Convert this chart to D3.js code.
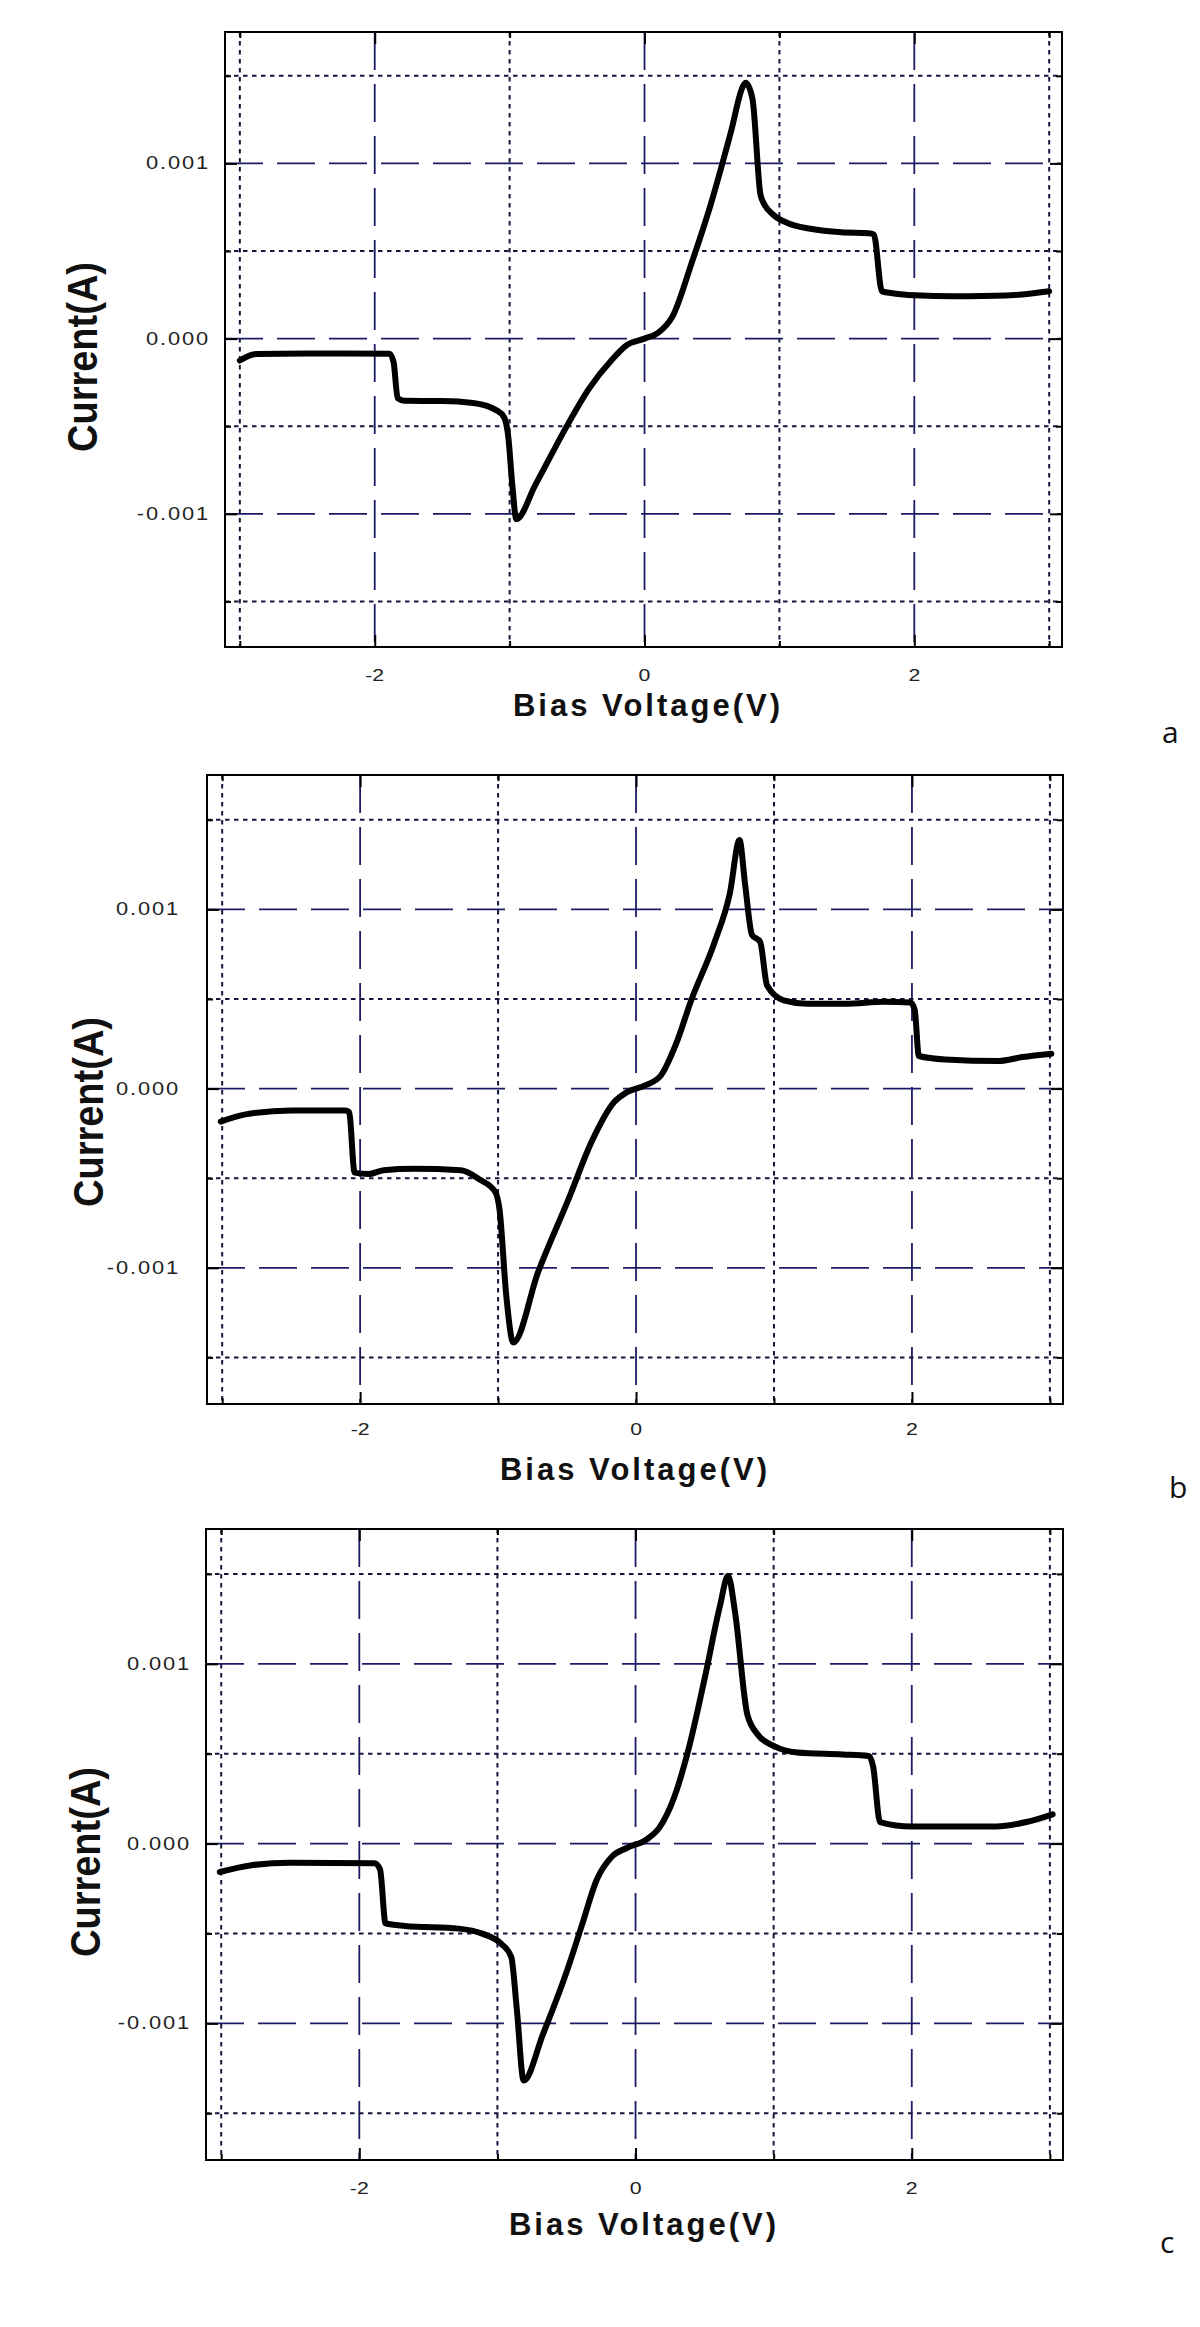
<!DOCTYPE html>
<html>
<head>
<meta charset="utf-8">
<script src="https://cdn.jsdelivr.net/npm/d3@7"></script>
<style>
  body { margin: 0; background: #fff; }
  svg { display: block; }
</style>
</head>
<body>
<div class="plot"></div>
<script>
// grid / tick values
const xMajor = [-2, 0, 2];
const xMinor = [-3, -1, 1, 3];
const yMajor = [0.001, 0, -0.001];
const yMinor = [0.0015, 0.0005, -0.0005, -0.0015];
const xTickLabels = ["-2", "0", "2"];
const yTickLabels = ["0.001", "0.000", "-0.001"];
const panelNames = ["a", "b", "c"];
const xDomain = [-3.11, 3.095];
const yDomain = [-0.00176, 0.00175];

// panel a : I-V curve
const voltsA = [-3.0, -2.88, -2.5, -1.89, -1.86, -1.83, -1.78, -1.5, -1.27, -1.10, -1.04, -1.01, -0.98, -0.95,
  -0.81, -0.58, -0.41, -0.24, -0.13, 0.0, 0.10, 0.21, 0.35, 0.49, 0.64, 0.73, 0.75, 0.80, 0.86, 0.89, 0.95,
  1.06, 1.23, 1.46, 1.66, 1.70, 1.76, 1.85, 2.0, 2.3, 2.6, 2.8, 3.0];
const currentA = [-0.000125, -0.000088, -0.000085, -0.000086, -0.000135, -0.00034, -0.000355, -0.000356, -0.000367,
  -0.000408, -0.00045, -0.00056, -0.000836, -0.00103,
  -0.000836, -0.000505, -0.000284, -0.000119, -0.000036, 0.0, 0.000033, 0.00013, 0.000433, 0.000764, 0.001178,
  0.00144, 0.00146, 0.00137, 0.00082, 0.000764, 0.00071,
  0.00066, 0.000627, 0.000607, 0.000602, 0.000595, 0.00027, 0.000258, 0.000248, 0.000242, 0.000244, 0.000252, 0.00027];

// panel b
const voltsB = [-3.01, -2.83, -2.5, -2.11, -2.08, -2.04, -1.94, -1.83, -1.61, -1.27, -1.13, -1.02, -0.99, -0.94,
  -0.89, -0.71, -0.49, -0.32, -0.16, -0.07, 0.07, 0.18, 0.29, 0.40, 0.57, 0.68, 0.75, 0.79, 0.84, 0.90, 0.95,
  1.07, 1.24, 1.52, 1.80, 1.99, 2.02, 2.05, 2.24, 2.63, 2.80, 3.01];
const currentB = [-0.000184, -0.000144, -0.000122, -0.000122, -0.00013, -0.000469, -0.000477, -0.000455, -0.000447,
  -0.000455, -0.000509, -0.000577, -0.000672, -0.00116,
  -0.001417, -0.001024, -0.000618, -0.000293, -0.000076, -0.000022, 0.000019, 0.000073, 0.000249, 0.000493,
  0.000818, 0.00109, 0.001387, 0.001144, 0.000859, 0.000818, 0.000575,
  0.000493, 0.000474, 0.000474, 0.000485, 0.00048, 0.000439, 0.000182, 0.000163, 0.000154, 0.000176, 0.000195];

// panel c
const voltsC = [-3.01, -2.78, -2.5, -1.89, -1.85, -1.81, -1.67, -1.28, -1.11, -0.97, -0.90, -0.86, -0.81,
  -0.67, -0.50, -0.39, -0.28, -0.17, -0.06, 0.08, 0.17, 0.28, 0.39, 0.50, 0.61, 0.67, 0.72, 0.81, 0.89,
  1.0, 1.17, 1.5, 1.69, 1.72, 1.77, 2.0, 2.61, 2.83, 3.02];
const currentC = [-0.000158, -0.00012, -0.000106, -0.000109, -0.000143, -0.000444, -0.000458, -0.000473, -0.000501,
  -0.000559, -0.00063, -0.000917, -0.001318,
  -0.00106, -0.000716, -0.000458, -0.0002, -0.000072, -0.000023, 0.000023, 0.000086, 0.000258, 0.000544,
  0.000917, 0.001318, 0.00149, 0.00129, 0.000716, 0.000602,
  0.000544, 0.000507, 0.000496, 0.000487, 0.00043, 0.00012, 0.000095, 0.000095, 0.00012, 0.000163];

const series = [[voltsA, currentA], [voltsB, currentB], [voltsC, currentC]];

// where each panel sits on the page
const layout = [
  {left: 225, right: 1062, top: 32, bottom: 647, yGap: 15, xLab: 34, titleX: 648, titleY: 716, yTitleX: 97, yTitleY: 357, tagX: 1162, tagY: 743},
  {left: 207, right: 1063, top: 775, bottom: 1404, yGap: 27, xLab: 31, titleX: 635, titleY: 1480, yTitleX: 103, yTitleY: 1112, tagX: 1169, tagY: 1498},
  {left: 206, right: 1063, top: 1529, bottom: 2160, yGap: 15, xLab: 34, titleX: 644, titleY: 2235, yTitleX: 100, yTitleY: 1862, tagX: 1160, tagY: 2253}
];

const svg = d3.select(".plot")
  .append("svg")
    .attr("width", 1200)
    .attr("height", 2327);

const dashCol = "#1c1c66", dotCol = "#16163c";

layout.forEach((p, i) => {
  const x = d3.scaleLinear().domain(xDomain).range([p.left, p.right]);
  const y = d3.scaleLinear().domain(yDomain).range([p.bottom, p.top]);
  const g = svg.append("g");

  // gridlines
  g.selectAll(".vmaj").data(xMajor).enter().append("line")
    .attr("x1", d => x(d)).attr("x2", d => x(d))
    .attr("y1", p.top).attr("y2", p.bottom)
    .attr("stroke", dashCol).attr("stroke-width", 1.8).attr("stroke-dasharray", "38,14");
  g.selectAll(".vmin").data(xMinor).enter().append("line")
    .attr("x1", d => x(d)).attr("x2", d => x(d))
    .attr("y1", p.top).attr("y2", p.bottom)
    .attr("stroke", dotCol).attr("stroke-width", 2).attr("stroke-dasharray", "4.5,4.5");
  g.selectAll(".hmaj").data(yMajor).enter().append("line")
    .attr("y1", d => y(d)).attr("y2", d => y(d))
    .attr("x1", p.left).attr("x2", p.right)
    .attr("stroke", dashCol).attr("stroke-width", 1.8).attr("stroke-dasharray", "38,14");
  g.selectAll(".hmin").data(yMinor).enter().append("line")
    .attr("y1", d => y(d)).attr("y2", d => y(d))
    .attr("x1", p.left).attr("x2", p.right)
    .attr("stroke", dotCol).attr("stroke-width", 2).attr("stroke-dasharray", "4.5,4.5");

  // inward ticks on all four sides
  const addAxis = (axis, tx, ty) => {
    const a = g.append("g").attr("transform", `translate(${tx},${ty})`).call(axis);
    a.select(".domain").remove();
    a.selectAll("line").attr("stroke", "#000").attr("stroke-width", 2);
  };
  [[xMajor, 12], [xMinor, 6]].forEach(([vals, len]) => {
    addAxis(d3.axisBottom(x).tickValues(vals).tickSize(-len).tickFormat(""), 0, p.bottom);
    addAxis(d3.axisTop(x).tickValues(vals).tickSize(-len).tickFormat(""), 0, p.top);
  });
  [[yMajor, 12], [yMinor, 6]].forEach(([vals, len]) => {
    addAxis(d3.axisLeft(y).tickValues(vals).tickSize(-len).tickFormat(""), p.left, 0);
    addAxis(d3.axisRight(y).tickValues(vals).tickSize(-len).tickFormat(""), p.right, 0);
  });

  // frame
  g.append("rect")
    .attr("x", p.left).attr("y", p.top)
    .attr("width", p.right - p.left).attr("height", p.bottom - p.top)
    .attr("fill", "none").attr("stroke", "#000").attr("stroke-width", 2);

  // curve
  const [vs, cs] = series[i];
  const pts = vs.map((v, k) => [v, cs[k]]);
  const line = d3.line()
    .x(d => x(d[0]))
    .y(d => y(d[1]))
    .curve(d3.curveMonotoneX);
  g.append("path")
    .datum(pts)
    .attr("d", line)
    .attr("fill", "none")
    .attr("stroke", "#000")
    .attr("stroke-width", 6)
    .attr("stroke-linejoin", "round")
    .attr("stroke-linecap", "round");

  // tick labels
  g.selectAll(".xl").data(xMajor).enter().append("text")
    .attr("transform", d => `translate(${x(d)},${p.bottom + p.xLab}) scale(1.25,1)`)
    .attr("text-anchor", "middle")
    .style("font-family", "Liberation Sans, Arial, sans-serif")
    .style("font-size", "17px")
    .attr("fill", "#222")
    .text((d, k) => xTickLabels[k]);
  g.selectAll(".yl").data(yMajor).enter().append("text")
    .attr("transform", d => `translate(${p.left - p.yGap},${y(d) + 6}) scale(1.25,1)`)
    .attr("text-anchor", "end")
    .style("font-family", "Liberation Sans, Arial, sans-serif")
    .style("font-size", "17.5px")
    .style("letter-spacing", "1.5px")
    .attr("fill", "#222")
    .text((d, k) => yTickLabels[k]);

  // axis titles
  g.append("text")
    .attr("x", p.titleX).attr("y", p.titleY)
    .attr("text-anchor", "middle")
    .style("font-family", "Liberation Sans, Arial, sans-serif")
    .style("font-size", "31px")
    .style("font-weight", "bold")
    .style("letter-spacing", "3px")
    .attr("fill", "#111")
    .text("Bias Voltage(V)");
  g.append("text")
    .attr("transform", `translate(${p.yTitleX},${p.yTitleY}) rotate(-90)`)
    .attr("text-anchor", "middle")
    .attr("textLength", 190)
    .attr("lengthAdjust", "spacingAndGlyphs")
    .style("font-family", "Liberation Sans, Arial, sans-serif")
    .style("font-size", "42px")
    .style("font-weight", "bold")
    .attr("fill", "#111")
    .text("Current(A)");

  // panel letter
  g.append("text")
    .attr("x", p.tagX).attr("y", p.tagY)
    .style("font-family", "Open Sans, sans-serif")
    .style("font-size", "30px")
    .attr("fill", "#111")
    .text(panelNames[i]);
});
</script>
</body>
</html>
